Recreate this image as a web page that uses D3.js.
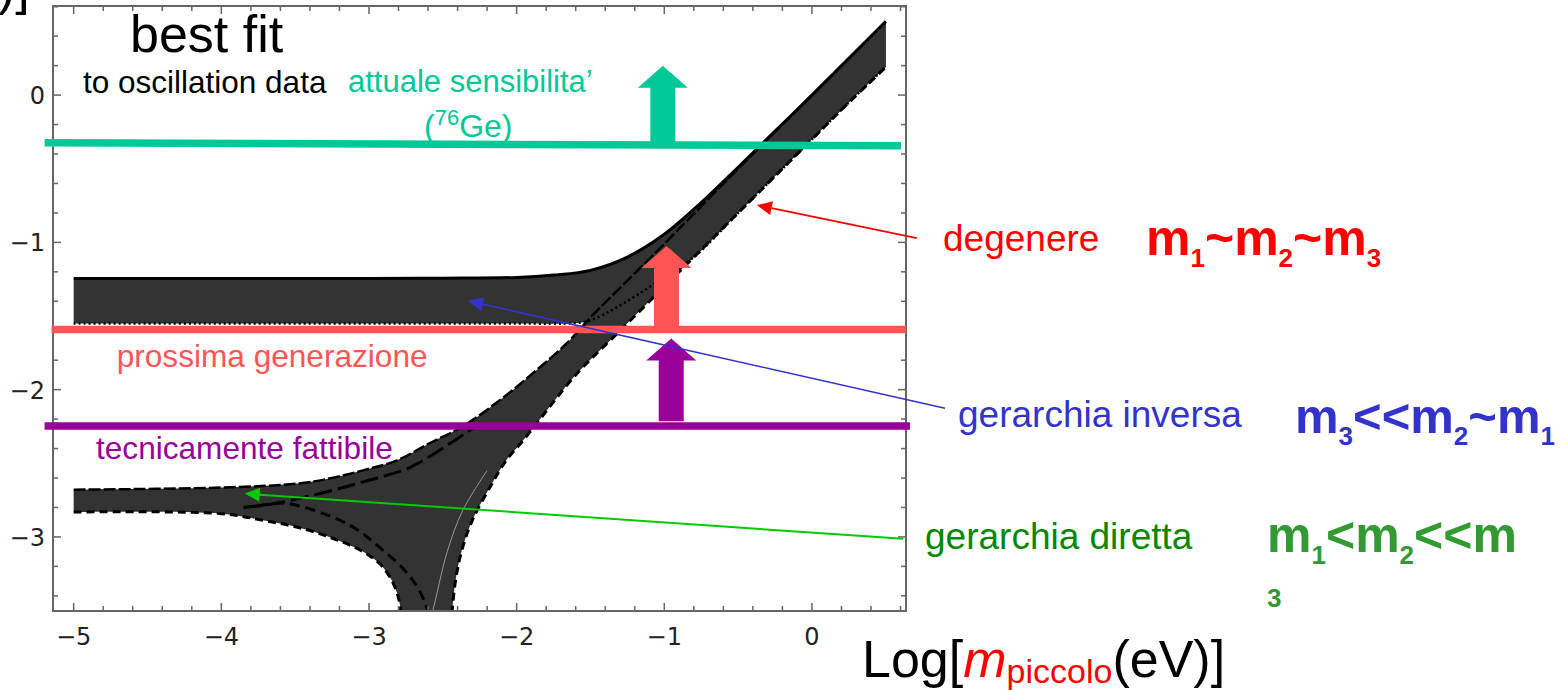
<!DOCTYPE html>
<html><head><meta charset="utf-8">
<script src="https://cdn.jsdelivr.net/npm/d3@7/dist/d3.min.js"></script>
<style>
html,body{margin:0;padding:0;background:#fff;}
svg{display:block;font-family:"Liberation Sans",Arial,sans-serif;}
.tick-label{font-family:"DejaVu Sans",sans-serif;font-size:24px;fill:#222;}
</style></head><body>
<div id="chart"></div>
<script>
/* axes */
var xDomain=[-5.14,0.637], yDomain=[-3.503,0.605];
var xTicks=[-5,-4,-3,-2,-1,0], yTicks=[-3,-2,-1,0];

/* inverted hierarchy band */
var ihUpX=[-5,-4,-3,-2.5,-2,-1.75,-1.5,-1.25,-1,-0.75,-0.5,-0.25,0,0.25,0.5];
var ihUpY=[-1.245,-1.245,-1.245,-1.243,-1.238,-1.222,-1.19,-1.10,-0.945,-0.73,-0.49,-0.245,0,0.25,0.5];
var ihLoX=[-5,-4,-3,-2,-1.6,-1.5,-1.32,-1.08,-0.8,-0.5,-0.25,0,0.25,0.5];
var ihLoY=[-1.551,-1.551,-1.551,-1.551,-1.548,-1.53,-1.44,-1.29,-1.10,-0.80,-0.55,-0.30,-0.05,0.19];

/* normal hierarchy band */
var nhUpX=[-5,-4,-3.49,-3.27,-3.04,-2.81,-2.59,-2.365,-2.114,-1.89,-1.66,-1.5,-1.25,-1,-0.75,-0.5,-0.25,0,0.25,0.5];
var nhUpY=[-2.679,-2.665,-2.638,-2.604,-2.548,-2.48,-2.364,-2.249,-2.072,-1.889,-1.685,-1.51,-1.26,-1.01,-0.755,-0.5,-0.25,0,0.25,0.5];
var nhLoX=[-5,-4,-3.72,-3.49,-3.27,-3.04,-2.93,-2.86,-2.81,-2.78,-2.76,-2.45,-2.44,-2.41,-2.365,-2.30,-2.18,-2.07,-1.96,-1.88,-1.6,-1.3,-1,-0.75,-0.5,-0.25,0,0.25,0.5];
var nhLoY=[-2.831,-2.842,-2.887,-2.933,-3.0,-3.10,-3.18,-3.27,-3.38,-3.53,-3.9,-3.9,-3.55,-3.272,-3.069,-2.887,-2.661,-2.48,-2.35,-2.25,-1.90,-1.60,-1.30,-1.05,-0.80,-0.55,-0.30,-0.05,0.19];

/* best-fit curves inside the normal band */
var bfUpX=[-3.85,-3.65,-3.29,-3.0,-2.72,-2.47,-2.25];
var bfUpY=[-2.80,-2.775,-2.695,-2.615,-2.527,-2.378,-2.23];
var bfLoX=[-3.75,-3.56,-3.15,-2.93,-2.72,-2.61,-2.58];
var bfLoY=[-2.79,-2.772,-2.91,-3.069,-3.272,-3.476,-3.7];
var bfWallX=[-2.60,-2.568,-2.47,-2.365,-2.2];
var bfWallY=[-3.6,-3.5,-3.1,-2.82,-2.55];

/* sensitivity levels: [x0,x1,y0,y1] */
var levelNames=["attuale","prossima","fattibile"];
var levelX0=[-5.197,-5.15,-5.197], levelX1=[0.603,0.637,0.664];
var levelY0=[-0.324,-1.592,-2.247], levelY1=[-0.344,-1.592,-2.247];
var levelColor=["#00C896","#FF5555","#990099"];
var arrowX=[-1.01,-0.985,-0.953], arrowTop=[0.20,-1.024,-1.653], arrowBase=[-0.338,-1.592,-2.215];

/* pointer lines: from label to tip */
var ptrFromX=[0.711,0.901,0.619], ptrFromY=[-0.971,-2.126,-3.013];
var ptrToX=[-0.373,-2.329,-3.841], ptrToY=[-0.747,-1.397,-2.706];
var ptrColor=["#FF0000","#3333CC","#00CC00"];

var W=1568,H=690, L=53,R=906,T=6,B=611;
var x=d3.scaleLinear().domain(xDomain).range([L,R]);
var y=d3.scaleLinear().domain(yDomain).range([B,T]);
var svg=d3.select("#chart").append("svg").attr("width",W).attr("height",H);
svg.append("defs").append("clipPath").attr("id","plotclip")
    .append("rect").attr("x",L).attr("y",T).attr("width",R-L).attr("height",B-T);

function pts(xs,ys){return xs.map(function(v,i){return [v,ys[i]];});}
var line=d3.line().x(function(d){return x(d[0]);}).y(function(d){return y(d[1]);})
    .curve(d3.curveCatmullRom.alpha(0.5));
function bandPath(up,lo){var b=line(lo.slice().reverse());return line(up)+"L"+b.slice(1)+"Z";}

var ihUp=pts(ihUpX,ihUpY), ihLo=pts(ihLoX,ihLoY), nhUp=pts(nhUpX,nhUpY), nhLo=pts(nhLoX,nhLoY);
var g=svg.append("g").attr("clip-path","url(#plotclip)");
g.append("path").attr("d",bandPath(nhUp,nhLo)).attr("fill","#333");
g.append("path").attr("d",bandPath(ihUp,ihLo)).attr("fill","#333");

function curve(p,dash,w,col){
    g.append("path").attr("d",line(p)).attr("fill","none").attr("stroke",col||"#000")
        .attr("stroke-width",w).attr("stroke-dasharray",dash);
}
curve(nhLo,"8,5",3);
curve(nhUp,"12,3",2.5);
curve(ihLo,"2,3",2.5);
curve(ihUp,null,3);
curve(pts(bfUpX,bfUpY),"18,6",3);
curve(pts(bfLoX,bfLoY),"10,6",3);
curve(pts(bfWallX,bfWallY),null,1,"#999");

/* frame and ticks */
var frame=svg.append("g");
frame.append("rect").attr("x",L).attr("y",T).attr("width",R-L).attr("height",B-T)
    .attr("fill","none").attr("stroke","#666").attr("stroke-width",2);
var xMinor=d3.range(-5,0.61,0.2), yMinor=d3.range(-3.4,0.61,0.2);
function isMajor(v){return Math.abs(v-Math.round(v))<1e-6;}
xMinor.forEach(function(v){var len=isMajor(v)?8:5;
    frame.append("line").attr("x1",x(v)).attr("x2",x(v)).attr("y1",B).attr("y2",B-len).attr("stroke","#666").attr("stroke-width",1.5);
    frame.append("line").attr("x1",x(v)).attr("x2",x(v)).attr("y1",T).attr("y2",T+len).attr("stroke","#666").attr("stroke-width",1.5);});
yMinor.forEach(function(v){var len=isMajor(v)?8:5;
    frame.append("line").attr("y1",y(v)).attr("y2",y(v)).attr("x1",L).attr("x2",L+len).attr("stroke","#666").attr("stroke-width",1.5);
    frame.append("line").attr("y1",y(v)).attr("y2",y(v)).attr("x1",R).attr("x2",R-len).attr("stroke","#666").attr("stroke-width",1.5);});
function fmt(v){return v<0?"\u2212"+Math.abs(v):String(v);}
frame.selectAll("text.xl").data(xTicks).enter().append("text").attr("class","tick-label")
    .attr("x",function(d){return x(d);}).attr("y",645).attr("text-anchor","middle").text(fmt);
frame.selectAll("text.yl").data(yTicks).enter().append("text").attr("class","tick-label")
    .attr("x",45).attr("y",function(d){return y(d)+9;}).attr("text-anchor","end").text(fmt);

/* sensitivity levels with block arrows */
levelNames.forEach(function(n,i){
    svg.append("line").attr("x1",x(levelX0[i])).attr("x2",x(levelX1[i]))
        .attr("y1",y(levelY0[i])).attr("y2",y(levelY1[i]))
        .attr("stroke",levelColor[i]).attr("stroke-width",7.5);
    var cx=x(arrowX[i]), top=y(arrowTop[i]), base=y(arrowBase[i]), hb=top+22, sw=12.5, hw=25;
    svg.append("path").attr("fill",levelColor[i])
        .attr("d","M"+(cx-sw)+","+base+"L"+(cx-sw)+","+hb+"L"+(cx-hw)+","+hb+"L"+cx+","+top+
            "L"+(cx+hw)+","+hb+"L"+(cx+sw)+","+hb+"L"+(cx+sw)+","+base+"Z");
});

/* pointer lines */
ptrColor.forEach(function(c,i){
    var x0=x(ptrFromX[i]),y0=y(ptrFromY[i]),x1=x(ptrToX[i]),y1=y(ptrToY[i]);
    var dx=x1-x0,dy=y1-y0,len=Math.sqrt(dx*dx+dy*dy),ux=dx/len,uy=dy/len,hl=15,hw=7;
    var bx=x1-ux*hl,by=y1-uy*hl;
    svg.append("line").attr("x1",x0).attr("y1",y0).attr("x2",bx).attr("y2",by)
        .attr("stroke",c).attr("stroke-width",i===2?2:1.6);
    svg.append("path").attr("fill",c).attr("d","M"+x1+","+y1+"L"+(bx-uy*hw)+","+(by+ux*hw)+
        "L"+(bx+uy*hw)+","+(by-ux*hw)+"Z");
});

/* texts */
function txt(x0,y0,size,col,s,weight){
    return svg.append("text").attr("x",x0).attr("y",y0).attr("font-size",size)
        .attr("fill",col).attr("font-weight",weight||"normal").text(s);
}
txt(-2,4,52,"#000",")]");
txt(130,52,52,"#000","best fit");
txt(83,92.7,31.5,"#000","to oscillation data");
txt(348,92,31,"#00C896","attuale sensibilita\u2019");
var ge=txt(424,137,32,"#00C896","(");
ge.append("tspan").attr("font-size",22).attr("dy",-12).text("76");
ge.append("tspan").attr("font-size",32).attr("dy",12).text("Ge)");
txt(116.7,367,31.6,"#FF5555","prossima generazione");
txt(96,459,31.6,"#990099","tecnicamente fattibile");
txt(943,251,37,"#FF0000","degenere");
txt(958,427,37,"#3333CC","gerarchia inversa");
txt(925,549,37,"#008800","gerarchia diretta");

function mass(x0,y0,size,col,parts){
    var t=svg.append("text").attr("x",x0).attr("y",y0).attr("font-size",size)
        .attr("fill",col).attr("font-weight","bold");
    var sub=false;
    parts.forEach(function(p,i){
        var s=t.append("tspan").text(p);
        if(i%2===1){s.attr("font-size",26).attr("dy",12);sub=true;}
        else if(sub){s.attr("font-size",size).attr("dy",-12);sub=false;}
    });
    return t;
}
mass(1146,255,50,"#FF0000",["m","1","~m","2","~m","3"]);
mass(1295,433,49,"#3333CC",["m","3","<<m","2","~m","1"]);
mass(1267,552,50,"#339933",["m","1","<m","2","<<m"]);
txt(1267,607,26,"#339933","3","bold");

var lab=txt(862,677,52,"#000","Log[");
lab.append("tspan").attr("fill","#FF0000").attr("font-style","italic").text("m");
lab.append("tspan").attr("fill","#FF0000").attr("font-size",34).attr("dy",6).text("piccolo");
lab.append("tspan").attr("font-size",52).attr("dy",-6).text("(eV)]");
</script>
</body></html>
